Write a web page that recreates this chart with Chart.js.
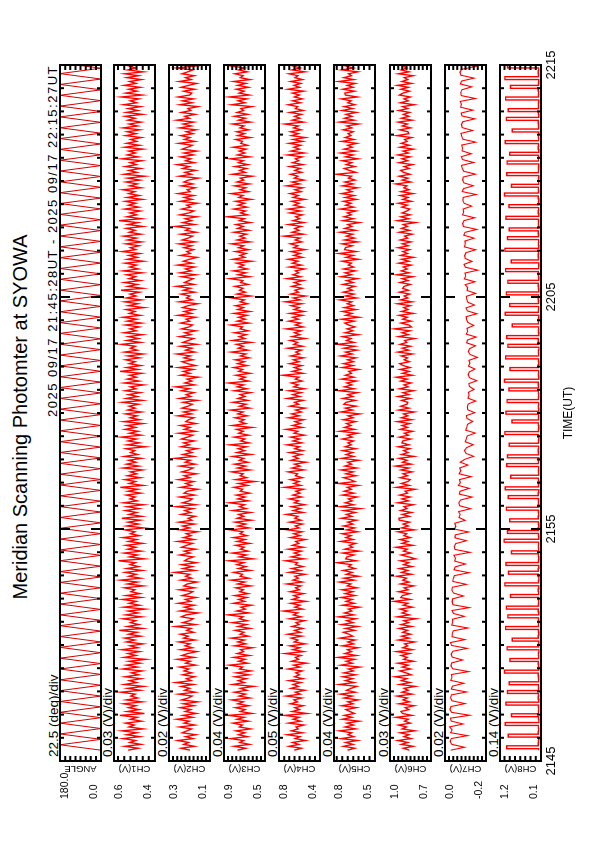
<!DOCTYPE html>
<html><head><meta charset="utf-8">
<script src="https://cdn.jsdelivr.net/npm/chart.js@4.4.1/dist/chart.umd.min.js"></script>
<style>
html,body{margin:0;padding:0;background:#fff;width:595px;height:842px;overflow:hidden;}
#land{position:absolute;left:0;top:0;width:842px;height:595px;transform-origin:0 0;transform:translate(0px,842px) rotate(-90deg);font-family:"Liberation Sans",Arial,sans-serif;color:#000;}
#land canvas{position:absolute;left:0;}
.txt{position:absolute;white-space:nowrap;line-height:1;}
</style></head><body>
<div id="land"></div>
<script>
// ---------------- DATA ----------------
// time axis: minutes after 21:45 UT
const timeTickValues = [0, 10, 20, 30];
const timeTickLabels = ['2145', '2155', '2205', '2215'];
const T0 = 28 / 60;      // first sample 21:45:28 UT
const DTN = 0.0833;      // sample spacing CH1-CH6 (min, 5 s)
const DT = 0.1254;       // sample spacing CH7-CH8 (min, 7.5 s)
const ANG_T0 = 28 / 60;  // first scan turning point
const ANG_DT = 0.2333;   // scan half period (min)

const angleDeg = [
0,180,0,180,0,180,0,180,0,180,0,180,0,180,0,180,0,180,0,180,
0,180,0,180,0,180,0,180,0,180,0,180,0,180,0,180,0,180,0,180,
0,180,0,180,0,180,0,180,0,180,0,180,0,180,0,180,0,180,0,180,
0,180,0,180,0,180,0,180,0,180,0,180,0,180,0,180,0,180,0,180,
0,180,0,180,0,180,0,180,0,180,0,180,0,180,0,180,0,180,0,180,
0,180,0,180,0,180,0,180,0,180,0,180,0,180,0,180,0,180,0,180,
0,180,0,180,0,180,0,180,0];

const ch1mV = [
531,482,547,469,523,495,556,474,538,489,561,458,527,501,544,466,519,487,572,451,
536,478,529,493,553,462,541,484,518,497,566,471,533,455,549,490,524,468,545,480,
515,463,558,486,539,472,527,445,551,493,532,476,563,484,522,459,540,498,547,470,
529,488,574,461,535,479,520,494,556,466,543,483,530,449,552,475,526,491,559,468,
541,473,518,499,548,457,534,486,567,470,528,492,545,463,537,480,521,496,578,452,
525,485,550,467,533,494,542,460,529,489,557,476,520,498,546,455,538,481,531,472,
562,464,527,490,544,478,536,456,553,487,523,497,540,469,531,483,569,458,526,495,
547,471,534,489,520,461,555,479,538,493,528,466,549,485,519,499,541,447,536,476,
531,490,564,468,525,482,546,495,537,459,552,474,522,488,543,466,533,497,527,480,
558,462,540,486,529,471,545,493,521,456,550,478,535,491,524,464,570,483,538,469,
526,497,543,475,532,458,548,487,520,496,563,470,537,481,529,461,551,492,523,477,
544,466,536,489,557,472,525,498,541,453,530,484,547,467,539,493,522,476,566,460,
533,487,549,470,527,495,538,463,554,481,524,490,546,457,535,486,528,473,560,494,
521,478,542,465,534,491,552,469,526,497,540,459,531,484,575,466,537,489,523,471,
548,480,530,494,545,462,536,477,529,499,557,468,524,486,541,473,533,450,550,488,
527,470,544,491,522,464,561,482,535,495,528,459,547,476,538,489,519,467,543,492,
536,474,555,485,526,468,532,497,546,461,539,483,530,470,553,490,521,478,564,463,
542,488,529,472,550,493,524,466,537,481,548,457,533,495,527,474,545,486,531,469];

const ch2mV = [
198,241,176,228,205,257,183,219,169,236,212,190,249,174,226,201,262,185,232,167,
221,194,245,179,230,160,238,207,187,253,172,224,199,241,181,266,192,215,175,234,
189,227,203,248,170,219,196,259,178,237,209,164,243,186,222,198,251,173,229,206,
244,180,213,192,268,171,233,200,182,240,217,158,246,188,225,177,255,195,220,168,
236,203,184,250,176,228,211,163,242,190,219,199,272,174,231,186,238,166,224,208,
181,247,197,226,170,239,214,185,258,178,229,193,216,161,245,200,233,176,251,189,
207,172,240,195,223,182,264,169,235,202,187,248,175,227,211,159,243,191,218,180,
254,198,226,166,237,205,183,246,173,221,196,270,179,232,188,214,163,241,200,229,
176,239,210,184,252,171,225,197,244,168,218,204,179,257,190,228,172,236,207,186,
231,162,249,194,216,178,240,201,267,175,223,189,212,157,244,197,230,181,253,170,
209,236,183,227,196,261,174,219,188,245,165,232,206,180,248,193,222,169,238,202,
185,243,199,217,171,256,190,226,177,234,208,160,250,186,215,198,241,174,229,195,
264,178,224,203,182,239,168,246,192,220,175,258,187,230,201,163,244,196,213,180,
227,189,251,172,235,206,185,242,167,218,199,269,176,233,190,221,164,247,203,178,
238,195,214,161,245,188,226,179,255,197,211,173,240,184,228,205,156,249,191,222,
170,233,202,259,176,219,193,244,180,227,165,236,210,186,252,174,225,198,242,183,
216,168,248,191,231,179,262,200,223,172,239,194,207,159,246,187,234,181,255,199,
189,228,175,241,204,166,250,192,219,177,237,208,184,264,171,226,196,243,182,230];

const ch3mV = [
768,689,801,652,745,710,836,671,759,698,782,640,750,721,812,664,773,703,857,628,
741,695,788,660,766,713,824,647,754,690,797,678,739,609,815,702,761,683,793,656,
779,637,748,718,846,669,757,694,806,651,771,708,738,622,799,687,765,700,828,662,
744,705,790,645,762,681,817,673,750,715,860,655,776,692,735,632,808,699,758,677,
795,664,747,711,783,638,769,697,831,659,742,720,804,643,760,686,774,707,851,617,
753,682,818,666,739,703,787,649,772,693,809,675,745,716,838,656,764,689,791,633,
770,709,757,641,812,684,748,701,845,662,766,694,780,650,741,718,803,670,759,598,
786,678,743,714,825,646,768,690,796,667,751,706,814,637,774,699,762,681,840,654,
738,696,801,661,757,712,777,628,819,688,747,703,792,672,765,715,833,650,749,685,
811,668,763,697,742,640,798,676,771,708,854,660,746,691,784,645,757,719,806,674,
767,702,789,653,740,688,826,667,760,711,779,634,815,696,752,683,797,663,744,720,
832,657,770,693,758,676,802,648,766,710,787,670,743,701,821,639,775,692,749,714,
794,665,737,717,842,650,763,687,808,672,755,706,776,630,813,698,745,684,790,661,
759,709,827,646,771,694,747,680,800,658,768,713,783,642,751,702,866,669,739,690,
805,677,762,699,786,635,756,716,830,663,744,688,797,652,773,707,741,624,818,693,
748,680,792,666,760,712,839,649,769,697,752,684,810,671,736,719,785,644,765,700,
776,659,745,705,816,641,758,691,799,668,771,710,734,628,823,695,762,678,848,654,
753,703,781,662,767,687,807,647,742,714,794,673,757,698,828,651,769,690,746,711];

const ch4mV = [
651,582,700,608,667,541,642,596,719,570,680,613,634,557,706,589,661,604,745,528,
672,600,645,563,690,618,654,579,728,593,640,548,683,611,662,585,703,566,649,602,
636,574,711,597,658,532,676,610,641,586,739,560,665,598,694,545,653,616,681,577,
714,592,648,568,671,604,633,551,697,583,660,617,755,569,646,595,686,538,669,608,
657,561,692,601,639,587,722,573,663,612,645,547,701,590,675,565,640,619,734,555,
680,596,652,580,708,563,669,607,637,542,688,593,656,575,716,602,642,570,695,584,
644,615,727,566,661,591,679,549,650,609,699,578,664,596,635,560,743,588,655,605,
689,572,640,620,710,557,673,594,648,537,682,611,659,583,697,568,646,601,720,576,
662,598,685,553,652,616,730,571,668,590,643,559,706,603,676,580,638,547,692,609,
648,564,719,597,665,585,702,550,657,613,680,574,641,606,763,566,670,592,651,578,
696,605,660,561,684,599,637,581,713,569,655,618,690,544,672,597,649,584,728,563,
641,589,703,612,667,572,694,555,653,603,682,578,737,595,660,540,686,610,645,573,
675,597,650,564,721,587,663,608,640,551,698,581,669,614,711,570,656,593,683,546,
658,616,689,577,643,596,750,563,671,605,647,583,706,558,664,600,638,572,695,589,
708,568,655,603,678,549,661,611,692,584,645,567,724,598,673,556,650,615,687,579,
646,592,697,566,668,608,639,575,715,553,683,601,656,588,702,570,662,543,679,610,
687,583,658,611,742,560,670,596,648,580,693,565,640,617,708,590,666,573,651,601,
669,559,712,600,653,587,685,571,644,615,701,548,674,594,660,607,733,581,647,590];

const ch5mV = [
701,648,731,662,714,629,746,655,697,671,759,640,719,658,706,617,738,669,725,651,
684,712,637,743,660,698,624,727,667,752,645,709,676,633,761,654,717,663,735,642,
728,659,695,611,748,666,711,649,770,636,720,672,702,625,739,657,699,646,756,663,
690,731,650,716,628,744,661,706,641,764,655,723,670,695,614,737,652,712,667,749,
646,718,663,741,632,703,676,759,653,726,621,710,668,733,647,694,674,778,639,715,
705,653,736,618,722,664,689,642,751,659,714,675,740,627,707,650,731,661,699,635,
745,670,709,644,727,608,754,657,717,668,696,631,738,654,725,673,703,623,766,648,
681,729,639,713,660,747,635,720,671,700,619,742,656,711,664,735,641,718,674,698,
657,739,667,702,626,756,650,723,676,708,643,732,659,696,612,749,665,716,638,728,
712,645,734,663,698,629,762,652,724,669,706,637,744,655,717,672,692,620,739,660,
730,658,701,641,750,666,715,633,727,648,773,654,709,676,736,624,719,662,704,647,
693,721,652,744,617,713,668,738,640,725,658,703,670,757,634,716,655,732,666,700,
649,735,661,707,630,748,672,719,645,729,656,695,673,741,622,712,660,764,638,723,
716,667,740,627,724,651,709,664,755,643,720,670,699,615,733,657,727,674,702,639,
752,656,714,675,731,636,718,653,745,668,706,628,737,661,721,646,694,672,782,641,
688,724,648,710,671,739,625,715,659,751,642,727,667,701,633,744,654,719,676,697,
659,733,670,706,621,758,653,722,668,712,637,740,664,725,647,699,675,746,630,717,
720,650,736,661,703,644,767,656,728,672,694,627,742,659,711,668,731,639,718,654];

const ch6mV = [
858,903,831,917,870,942,846,898,862,925,818,911,879,937,851,894,866,956,840,908,
920,862,889,824,934,857,905,873,948,839,912,868,897,815,929,853,916,877,962,845,
883,928,850,909,866,941,828,901,874,919,856,951,835,906,870,893,820,938,861,914,
849,907,872,933,841,918,864,899,809,945,858,912,876,927,836,903,869,970,852,921,
910,855,937,868,896,826,923,861,906,879,949,843,915,870,931,838,900,864,924,812,
864,918,847,902,873,955,833,911,869,926,851,898,878,940,822,914,866,903,857,932,
935,860,909,842,921,876,897,830,943,865,913,853,928,872,890,817,951,859,917,869,
852,926,871,904,838,919,863,958,845,908,875,933,826,915,868,899,854,939,862,912,
907,848,931,866,895,834,924,872,911,855,946,840,918,869,901,823,936,861,920,876,
870,914,851,940,863,905,827,929,867,898,846,921,874,953,837,909,860,926,853,903,
928,858,897,872,916,836,942,864,910,850,925,878,893,820,937,866,912,855,967,843,
862,919,845,906,873,934,829,915,868,900,852,944,839,923,870,896,857,930,865,908,
897,851,927,869,911,833,948,860,918,874,903,845,935,862,914,828,922,871,906,856,
940,866,909,847,925,870,894,837,931,858,916,873,902,814,944,863,920,852,911,876,
855,913,872,938,843,906,867,926,832,919,861,899,877,957,848,910,869,932,854,901,
921,860,896,835,933,871,912,853,942,866,904,829,927,858,917,875,893,841,950,863,
869,928,849,910,874,939,838,916,862,901,856,935,871,908,823,924,867,898,852,931,
904,857,920,866,945,842,913,870,896,831,938,861,918,876,907,847,929,864,903,859];

const ch7mV = [
-28,-95,-33,-25,-31,-110,-27,-35,-22,-88,-30,-26,-120,-32,-24,-29,-98,-34,-27,-31,
-105,-30,-36,-92,-28,-34,-31,-115,-37,-29,-33,-86,-35,-30,-38,-108,-32,-27,-97,-34,
-35,-40,-112,-33,-38,-36,-94,-41,-34,-118,-39,-35,-37,-90,-42,-33,-36,-104,-38,-40,
-46,-118,-44,-50,-100,-47,-51,-43,-122,-49,-45,-52,-104,-48,-50,-115,-46,-53,-47,-98,
-68,-74,-66,-125,-72,-67,-76,-132,-70,-73,-118,-65,-75,-71,-128,-69,-77,-72,-112,-74,
-97,-140,-103,-95,-105,-138,-99,-104,-108,-148,-101,-106,-110,-136,-107,-104,-145,-111,-109,-113,
-150,-112,-117,-114,-142,-119,-116,-155,-120,-113,-118,-146,-115,-121,-117,-158,-122,-114,-119,-149,
-106,-110,-152,-104,-111,-107,-140,-112,-105,-103,-156,-109,-102,-144,-111,-106,-104,-150,-108,-110,
-98,-146,-94,-101,-97,-160,-100,-93,-132,-99,-96,-102,-150,-95,-99,-97,-142,-92,-98,-155,
-90,-86,-92,-145,-85,-91,-88,-130,-93,-87,-89,-152,-84,-90,-138,-92,-86,-89,-148,-91,
-84,-80,-140,-86,-79,-128,-83,-85,-81,-150,-87,-82,-78,-135,-84,-80,-86,-145,-83,-79,
-136,-76,-80,-74,-148,-79,-77,-82,-130,-75,-81,-142,-78,-73,-80,-150,-77,-79,-75,-132];

const ch8mV = [
165,1020,172,168,160,980,175,163,170,1060,158,166,890,171,164,169,1040,162,173,167,
1000,166,171,950,163,169,174,1080,161,167,172,930,165,170,158,1010,168,162,870,173,
160,168,1050,171,164,166,990,159,172,1030,167,163,170,920,165,174,161,1070,169,158,
166,970,173,160,1040,168,162,171,890,165,170,163,1090,159,167,1000,174,161,169,940,
172,164,168,1030,160,170,166,980,173,162,1060,167,158,171,910,165,169,163,1020,170,
161,1000,167,172,163,950,169,160,174,1070,166,162,171,880,168,164,1040,159,170,165,
1010,168,163,171,960,166,174,1080,162,169,165,930,172,160,167,1050,164,170,158,990,
167,173,1020,161,168,164,870,171,166,159,1060,170,163,940,168,172,165,1030,160,169,
174,990,162,168,171,1050,165,160,900,169,173,166,1070,161,170,164,1000,168,172,950,
163,170,167,1040,159,172,165,960,168,161,174,1080,166,170,890,163,169,160,1020,171,
168,162,1010,171,165,940,160,173,167,1060,164,170,162,870,169,166,172,1030,161,168,
980,167,171,160,1050,169,164,172,920,166,161,1070,168,173,163,1000,170,165,159,960];

// panel descriptions
const chNames   = ['ANGLE','CH1(V)','CH2(V)','CH3(V)','CH4(V)','CH5(V)','CH6(V)','CH7(V)','CH8(V)'];
const divLabels = ['22.5 (deg)/div','0.03 (V)/div','0.02 (V)/div','0.04 (V)/div','0.05 (V)/div','0.04 (V)/div','0.03 (V)/div','0.02 (V)/div','0.14 (V)/div'];
const topLabels = ['180.0','0.6','0.3','0.9','0.8','0.8','1.0','0.0','1.2'];
const botLabels = ['0.0','0.4','0.1','0.5','0.4','0.5','0.7','-0.2','0.1'];
const axisMin   = [0, 0.4, 0.1, 0.5, 0.4, 0.5, 0.7, -0.2, 0.1];
const axisMax   = [180, 0.6, 0.3, 0.9, 0.8, 0.8, 1.0, 0.0, 1.2];
const divSize   = [22.5, 0.03, 0.02, 0.04, 0.05, 0.04, 0.03, 0.02, 0.14];
const headerText = '2025 09/17 21:45:28UT - 2025 09/17 22:15:27UT';
const titleText  = 'Meridian Scanning Photomter at SYOWA';

// ---------------- LAYOUT (landscape coordinates) ----------------
const panelTop = [60, 114, 169, 224, 279, 334, 390, 445, 500];
const PH = 41;          // panel height
const PLOT_L = 81, PLOT_R = 777;
const stepped = [false, false, false, false, false, false, false, false, 'middle'];
const lineW   = [1, 1.4, 1.4, 1.4, 1.4, 1.4, 1.4, 1.1, 1.4];

const land = document.getElementById('land');
function addText(txt, css) {
  const d = document.createElement('div');
  d.className = 'txt'; d.textContent = txt;
  Object.assign(d.style, css);
  land.appendChild(d);
  return d;
}
addText(titleText, {left: '425px', top: '10px', fontSize: '20px', transform: 'translateX(-50%)'});
addText(headerText, {right: (842 - PLOT_R) + 'px', top: '46px', fontSize: '13px', letterSpacing: '1.5px'});
divLabels.forEach((t, i) => addText(t, {left: (PLOT_L + 4) + 'px', top: (panelTop[i] - 13) + 'px', fontSize: '13.5px'}));

Chart.defaults.font.family = '"Liberation Sans", Arial, sans-serif';
Chart.defaults.color = '#000';

const frameTicks = {
  id: 'frameTicks',
  afterDraw(chart, args, opts) {
    const {ctx, chartArea: a, scales} = chart;
    const xs = scales.x, ys = scales.y;
    ctx.save();
    ctx.strokeStyle = '#000';
    ctx.lineWidth = 2;
    ctx.beginPath();
    for (let m = timeTickValues[0]; m <= timeTickValues[timeTickValues.length - 1]; m++) {
      const px = xs.getPixelForValue(m);
      const len = (m % 10 === 0) ? 10 : 4;
      ctx.moveTo(px, a.top); ctx.lineTo(px, a.top + len);
      ctx.moveTo(px, a.bottom); ctx.lineTo(px, a.bottom - len);
    }
    const {min, max, div} = opts;
    for (let v = min + div; v < max - div * 0.01; v += div) {
      const py = ys.getPixelForValue(v);
      ctx.moveTo(a.left, py); ctx.lineTo(a.left + 5, py);
      ctx.moveTo(a.right, py); ctx.lineTo(a.right - 5, py);
    }
    ctx.stroke();
    ctx.strokeRect(a.left, a.top, a.right - a.left, a.bottom - a.top);
    ctx.restore();
  }
};

const series = [angleDeg, ch1mV, ch2mV, ch3mV, ch4mV, ch5mV, ch6mV, ch7mV, ch8mV];

series.forEach((arr, i) => {
  const last = i === series.length - 1;
  const cTop = panelTop[i] - 8;
  const cH = last ? (595 - cTop) : (PH + 16);
  const cv = document.createElement('canvas');
  cv.width = 842; cv.height = cH;
  cv.style.top = cTop + 'px';
  cv.style.width = '842px'; cv.style.height = cH + 'px';
  land.appendChild(cv);
  let pts;
  if (i === 0) pts = arr.map((v, k) => ({x: ANG_T0 + k * ANG_DT, y: v}));
  else {
    const step = i <= 6 ? DTN : DT;
    pts = arr.map((v, k) => ({x: T0 + k * step, y: v / 1000}));
  }
  const XH = 35;
  new Chart(cv, {
    type: 'line',
    data: {datasets: [{data: pts, borderColor: i === 0 ? '#d40000' : '#ff0000', borderWidth: lineW[i], pointRadius: 0, tension: 0, fill: false, stepped: stepped[i]}]},
    options: {
      responsive: false, animation: false, devicePixelRatio: 1,
      events: [],
      layout: {padding: {left: 43, right: 842 - PLOT_R, top: 8, bottom: last ? (cH - 8 - PH - XH) : 8}},
      plugins: {legend: {display: false}, tooltip: {enabled: false}, frameTicks: {min: axisMin[i], max: axisMax[i], div: divSize[i]}},
      scales: {
        x: {
          type: 'linear', min: timeTickValues[0], max: timeTickValues[timeTickValues.length - 1],
          display: last, position: 'bottom',
          afterBuildTicks(s) { s.ticks = timeTickValues.map(v => ({value: v})); },
          ticks: {autoSkip: false, maxRotation: 0, minRotation: 0, padding: 3, font: {size: 13},
                  callback: (v) => timeTickLabels[timeTickValues.indexOf(v)]},
          grid: {display: false, drawTicks: false}, border: {display: false},
          title: {display: true, text: 'TIME(UT)', font: {size: 12}, padding: 0},
          afterFit(s) { if (last) s.height = XH; }
        },
        y: {type: 'linear', min: axisMin[i], max: axisMax[i], display: false},
        yt: {
          type: 'linear', position: 'left', weight: 0, min: 0, max: 1,
          ticks: {display: false}, grid: {display: false, drawTicks: false}, border: {display: false},
          title: {display: true, text: chNames[i], font: {size: 9.5, lineHeight: 1}, padding: 0},
          afterFit(s) { s.width = 12; }
        },
        yl: {
          type: 'linear', position: 'left', weight: 10, min: 0, max: 1,
          afterBuildTicks(s) { s.ticks = [{value: 0.17}, {value: 0.866}]; },
          ticks: {autoSkip: false, crossAlign: 'far', padding: 0, font: {size: 10.5},
                  callback: (v) => v > 0.5 ? topLabels[i] : botLabels[i]},
          grid: {display: false, drawTicks: false}, border: {display: false},
          afterFit(s) { s.width = 26; }
        }
      }
    },
    plugins: [frameTicks]
  });
});
</script>
</body></html>
